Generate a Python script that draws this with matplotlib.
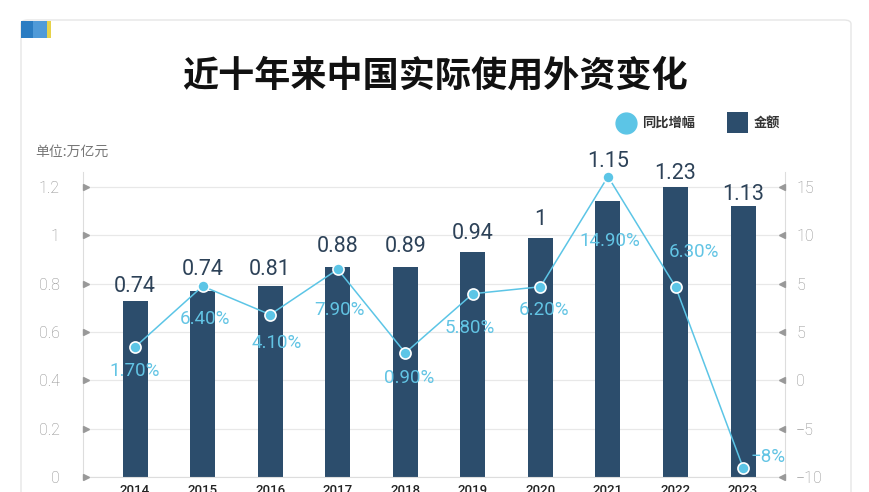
import numpy as np
import matplotlib.pyplot as plt
from matplotlib.patches import Rectangle, FancyBboxPatch
from matplotlib.lines import Line2D

plt.rcParams['font.family'] = ['Noto Sans CJK SC', 'DejaVu Sans']

# data
years = ['2014', '2015', '2016', '2017', '2018', '2019', '2020', '2021', '2022', '2023']
amount = [0.73, 0.77, 0.79, 0.87, 0.87, 0.93, 0.99, 1.14, 1.20, 1.12]      # bar heights (万亿元)
amount_labels = ['0.74', '0.74', '0.81', '0.88', '0.89', '0.94', '1', '1.15', '1.23', '1.13']
growth = [1.2, 6.45, 4.0, 7.9, 0.7, 5.8, 6.4, 15.9, 6.4, -9.2]            # line points (%)
growth_labels = ['1.70%', '6.40%', '4.10%', '7.90%', '0.90%', '5.80%', '6.20%', '14.90%', '6.30%', '−8%']
left_tick_labels = ['0', '0.2', '0.4', '0.6', '0.8', '1', '1.2']
right_tick_labels = ['−10', '−5', '0', '5', '5', '10', '15']

# label placement (pixels)
bar_label_dy = [14, 21, 17, 20, 20, 19, 18, 40, 13, 12]
pct_offsets = [(0, -24), (2, -33), (7, -28), (2, -41), (4, -25),
               (-3, -34), (4, -23), (2, -64), (18, 35), (25, 11)]

bar_color = '#2c4d6c'
line_color = '#5cc5e6'
tick_gray = '#8a8a8a'
num_font = ['Roboto', 'DejaVu Sans']

W, H = 870, 492
fig = plt.figure(figsize=(W / 100, H / 100), dpi=100)
fig.patch.set_facecolor('white')

# card frame and colour tab
card = FancyBboxPatch((21 / W, -0.05), 830 / W, (H - 20) / H + 0.05,
                      boxstyle='round,pad=0,rounding_size=0.008',
                      transform=fig.transFigure, facecolor='white',
                      edgecolor='#e6e6e6', linewidth=1.0, zorder=-10)
fig.add_artist(card)
fig.add_artist(Rectangle((21 / W, (H - 38) / H), 12 / W, 17 / H, transform=fig.transFigure,
                         facecolor='#2a7cc2', edgecolor='none', zorder=-5))
fig.add_artist(Rectangle((33 / W, (H - 38) / H), 14 / W, 17 / H, transform=fig.transFigure,
                         facecolor='#4f9ad8', edgecolor='none', zorder=-5))
fig.add_artist(Rectangle((47 / W, (H - 38) / H), 4 / W, 17 / H, transform=fig.transFigure,
                         facecolor='#e6d24a', edgecolor='none', zorder=-5))

# title and unit
fig.text(435 / W, (H - 76) / H, '近十年来中国实际使用外资变化', ha='center', va='center',
         fontsize=26, fontweight='bold', color='#111111')
fig.text(35 / W, (H - 152) / H, '单位:万亿元', ha='left', va='center',
         fontsize=10, color='#777777')

# legend
fig.add_artist(Line2D([626 / W], [(H - 123) / H], marker='o', markersize=15,
                      color=line_color, transform=fig.transFigure))
fig.text(642 / W, (H - 123) / H, '同比增幅', ha='left', va='center', fontsize=9.5,
         color='#333333', fontweight='bold')
fig.add_artist(Rectangle((727 / W, (H - 133) / H), 21 / W, 21 / H, transform=fig.transFigure,
                         facecolor=bar_color, edgecolor='none'))
fig.text(754 / W, (H - 123) / H, '金额', ha='left', va='center', fontsize=9.5,
         color='#333333', fontweight='bold')

# axes
ax = fig.add_axes([83 / W, 15 / H, 702 / W, 305 / H])
ax.patch.set_alpha(0)
x = np.arange(len(years))
lt = [0, 0.2, 0.4, 0.6, 0.8, 1.0, 1.2]
ax.set_xlim(-0.77, 9.62)
ax.set_ylim(0, 1.262)
ax.set_yticks(lt)
ax.set_yticklabels(left_tick_labels, family=num_font, fontweight='light')
ax.grid(axis='y', color='#e8e8e8', linewidth=0.9)
ax.set_axisbelow(True)
for s in ['top', 'right']:
    ax.spines[s].set_visible(False)
ax.spines['left'].set_color('#dddddd')
ax.spines['bottom'].set_color('#dddddd')
ax.tick_params(axis='y', length=0, pad=17, labelsize=11.5, labelcolor=tick_gray)
ax.tick_params(axis='x', length=0, pad=5, labelsize=9.5, labelcolor='#222222')
ax.set_xticks(x)
ax.set_xticklabels(years, family=num_font, fontweight='medium')

ax.bar(x, amount, width=0.37, color=bar_color, zorder=2)
for xi, h, lab, dy in zip(x, amount, amount_labels, bar_label_dy):
    ax.annotate(lab, (xi, h), xytext=(0, dy), textcoords='offset pixels',
                ha='center', va='center', fontsize=15.5, color='#2d4258', family=num_font, zorder=5)

# arrow-like tick markers on the left spine
ax.plot([0.004] * len(lt), lt, linestyle='none', marker='>', markersize=4, color='#999999',
        transform=ax.get_yaxis_transform(), clip_on=False, zorder=3)

# right axis
ax2 = ax.twinx()
ax2.set_ylim(-10, 15 + 15 * 25 / 290)
rt = [-10 + k * 25 / 6 for k in range(7)]
ax2.set_yticks(rt)
ax2.set_yticklabels(right_tick_labels, family=num_font, fontweight='light')
ax2.tick_params(axis='y', length=0, pad=8, labelsize=11.5, labelcolor=tick_gray)
for s in ['top', 'left', 'bottom']:
    ax2.spines[s].set_visible(False)
ax2.spines['right'].set_color('#dddddd')
ax2.plot([0.996] * 7, rt, linestyle='none', marker='<', markersize=4, color='#999999',
         transform=ax2.get_yaxis_transform(), clip_on=False, zorder=3)

ax2.plot(x, growth, color=line_color, linewidth=1.1, marker='o', markersize=8,
         markerfacecolor=line_color, markeredgecolor='white', markeredgewidth=1.2,
         zorder=4, clip_on=False)
for xi, g, lab, (dx, dy) in zip(x, growth, growth_labels, pct_offsets):
    ax2.annotate(lab, (xi, g), xytext=(dx, dy), textcoords='offset pixels',
                 ha='center', va='center', fontsize=13.5, color='#62c4e4',
                 family=num_font, zorder=5)

fig.savefig('out.png', dpi=100)
